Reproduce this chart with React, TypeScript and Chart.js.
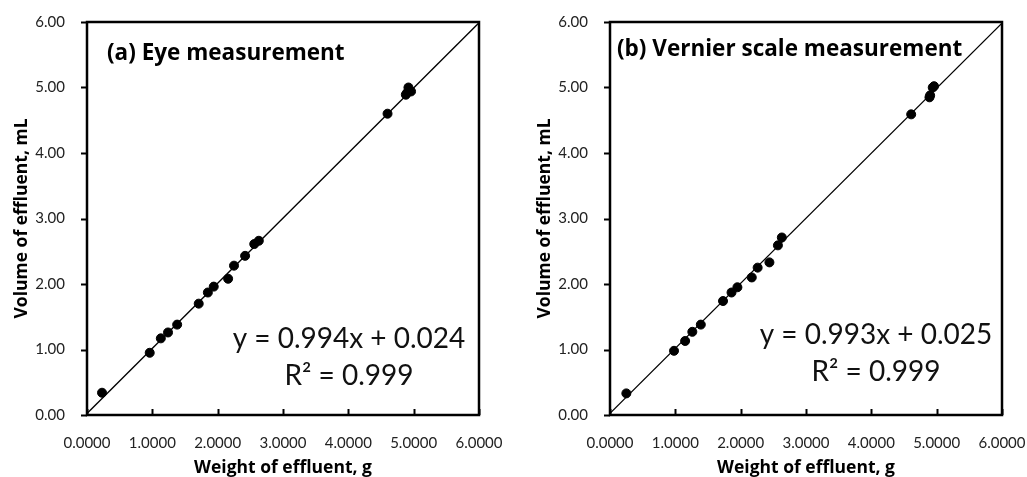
import React, { useEffect, useRef } from "react";
import { Chart, registerables } from "chart.js";

Chart.register(...registerables);

// Panel (a) Eye measurement
const eyeWeight = [0.23, 0.96, 1.13, 1.24, 1.38, 1.71, 1.85, 1.94, 2.16, 2.25, 2.42, 2.56, 2.63, 4.6, 4.88, 4.9, 4.92, 4.96];
const eyeVolume = [0.34, 0.95, 1.17, 1.26, 1.38, 1.7, 1.87, 1.96, 2.08, 2.28, 2.43, 2.61, 2.66, 4.6, 4.89, 4.92, 5.0, 4.94];

// Panel (b) Vernier scale measurement
const vernierWeight = [0.25, 0.98, 1.15, 1.26, 1.39, 1.73, 1.86, 1.95, 2.17, 2.26, 2.44, 2.57, 2.63, 4.61, 4.89, 4.9, 4.94, 4.96];
const vernierVolume = [0.33, 0.98, 1.13, 1.27, 1.38, 1.74, 1.87, 1.95, 2.1, 2.25, 2.33, 2.59, 2.71, 4.59, 4.85, 4.88, 5.0, 5.02];

// Linear trend lines (slope, intercept)
const eyeFit = [0.994, 0.024];
const vernierFit = [0.993, 0.025];
const fitRange = [0, 6];

const xTicks = [0, 1, 2, 3, 4, 5, 6];
const yTicks = [0, 1, 2, 3, 4, 5, 6];

const panelTitles = ["(a) Eye measurement", "(b) Vernier scale measurement"];
const equations = ["y = 0.994x + 0.024", "y = 0.993x + 0.025"];
const r2Labels = ["R² = 0.999", "R² = 0.999"];

const FONT = "Lato, 'Open Sans', sans-serif";
const BOLD_FONT = "'Open Sans', Lato, sans-serif";

type PanelProps = {
  xs: number[];
  ys: number[];
  fit: number[];
  title: string;
  eq: string;
  r2: string;
  titlePos: number[];
  eqPos: number[];
};

const zeroPad = (s: any) => {
  s.paddingTop = 0;
  s.paddingBottom = 0;
  s.paddingLeft = 0;
  s.paddingRight = 0;
};

function Panel({ xs, ys, fit, title, eq, r2, titlePos, eqPos }: PanelProps) {
  const ref = useRef<HTMLCanvasElement | null>(null);
  useEffect(() => {
    if (!ref.current) return;
    const pts = xs.map((x, i) => ({ x, y: ys[i] }));
    const line = fitRange.map((x) => ({ x, y: fit[0] * x + fit[1] }));
    const framePlugin = {
      id: "frame",
      afterDraw(chart: any) {
        const { ctx, chartArea: a, scales } = chart;
        ctx.save();
        ctx.strokeStyle = "#000";
        ctx.lineWidth = 2.5;
        ctx.strokeRect(a.left, a.top, a.right - a.left, a.bottom - a.top);
        ctx.lineWidth = 2;
        xTicks.forEach((t) => {
          const px = Math.round(scales.x.getPixelForValue(t)) + 0.5;
          ctx.beginPath();
          ctx.moveTo(px, a.bottom);
          ctx.lineTo(px, a.bottom - 6);
          ctx.stroke();
        });
        yTicks.forEach((t) => {
          const py = Math.round(scales.y.getPixelForValue(t)) + 0.5;
          ctx.beginPath();
          ctx.moveTo(a.left, py);
          ctx.lineTo(a.left - 6, py);
          ctx.stroke();
        });
        ctx.fillStyle = "#000";
        ctx.font = `bold 22.5px ${BOLD_FONT}`;
        ctx.textAlign = "left";
        ctx.textBaseline = "alphabetic";
        ctx.fillText(title, a.left + titlePos[0], a.top + titlePos[1]);
        ctx.font = `28px ${FONT}`;
        ctx.fillStyle = "#111";
        ctx.textAlign = "center";
        ctx.fillText(eq, a.left + eqPos[0], a.top + eqPos[1]);
        ctx.fillText(r2, a.left + eqPos[0], a.top + eqPos[1] + 37);
        ctx.restore();
      },
    };
    const chart = new Chart(ref.current, {
      type: "scatter",
      data: {
        datasets: [
          {
            data: pts,
            backgroundColor: "#000",
            borderColor: "#000",
            pointRadius: 4.5,
            pointHoverRadius: 4.5,
            showLine: false,
            order: 1,
          },
          {
            data: line,
            type: "line",
            borderColor: "#000",
            borderWidth: 1.3,
            pointRadius: 0,
            fill: false,
            order: 2,
          } as any,
        ],
      },
      options: {
        animation: false,
        responsive: false,
        maintainAspectRatio: false,
        layout: { padding: { top: 22, right: 25, left: 0, bottom: 0 } },
        plugins: { legend: { display: false }, tooltip: { enabled: false } },
        scales: {
          x: {
            type: "linear",
            min: 0,
            max: 6,
            grid: { display: false },
            border: { display: false },
            afterBuildTicks: (s: any) => {
              s.ticks = xTicks.map((v) => ({ value: v }));
            },
            afterFit: (s: any) => {
              s.height = 62;
              zeroPad(s);
            },
            ticks: {
              color: "#222",
              font: { family: FONT, size: 15 },
              padding: 11,
              maxRotation: 0,
              callback: (v: any) => Number(v).toFixed(4),
            },
            title: {
              display: true,
              text: "Weight of effluent, g",
              color: "#000",
              font: { family: BOLD_FONT, size: 17.5, weight: "bold" },
              padding: { top: 0, bottom: -2 },
            },
          },
          y: {
            type: "linear",
            min: 0,
            max: 6,
            grid: { display: false },
            border: { display: false },
            afterBuildTicks: (s: any) => {
              s.ticks = yTicks.map((v) => ({ value: v }));
            },
            afterFit: (s: any) => {
              s.width = 87;
              zeroPad(s);
            },
            ticks: {
              color: "#222",
              font: { family: FONT, size: 15 },
              padding: 14,
              callback: (v: any) => Number(v).toFixed(2),
            },
            title: {
              display: true,
              text: "Volume of effluent, mL",
              color: "#000",
              font: { family: BOLD_FONT, size: 17.5, weight: "bold" },
              padding: { top: 12, bottom: 0 },
            },
          },
        },
      },
      plugins: [framePlugin],
    });
    return () => chart.destroy();
  }, []);
  return <canvas ref={ref} width={504} height={477} style={{ display: "block" }} />;
}

export default function App() {
  return (
    <div style={{ position: "absolute", left: 0, top: 0, width: 1027, height: 477, background: "#fff" }}>
      <div style={{ position: "absolute", left: 0, top: 0 }}>
        <Panel xs={eyeWeight} ys={eyeVolume} fit={eyeFit} title={panelTitles[0]} eq={equations[0]} r2={r2Labels[0]} titlePos={[20, 38]} eqPos={[262, 326]} />
      </div>
      <div style={{ position: "absolute", left: 523, top: 0 }}>
        <Panel xs={vernierWeight} ys={vernierVolume} fit={vernierFit} title={panelTitles[1]} eq={equations[1]} r2={r2Labels[1]} titlePos={[7, 34]} eqPos={[266, 322]} />
      </div>
    </div>
  );
}
